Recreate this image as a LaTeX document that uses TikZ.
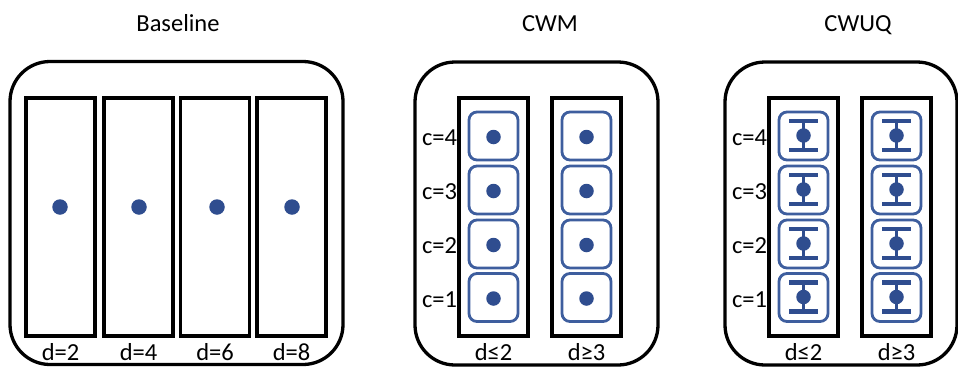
\documentclass[tikz,border=0pt]{standalone}
\usepackage{fontspec}
\setmainfont{Carlito}
\definecolor{dotblue}{RGB}{47,77,143}
\definecolor{cellblue}{RGB}{62,94,158}
\begin{document}
\begin{tikzpicture}[x=1pt,y=-1pt,
  outerbox/.style={draw=black,line width=3.3pt,rounded corners=40pt,inner sep=0pt,outer sep=0pt,minimum height=303pt},
  colbox/.style={draw=black,line width=3.5pt,inner sep=0pt,outer sep=0pt,minimum width=69pt,minimum height=238pt},
  cellbox/.style={draw=cellblue,line width=2.8pt,rounded corners=8pt,inner sep=0pt,outer sep=0pt,minimum width=49pt,minimum height=48pt},
  bluedot/.style={circle,fill=dotblue,inner sep=0pt,outer sep=0pt,minimum size=15.5pt},
  lbl/.style={font=\fontsize{24.5}{28}\selectfont,inner sep=0pt,outer sep=0pt},
  errbar/.style={draw=dotblue,line width=4.2pt},
  errstem/.style={draw=dotblue,line width=3pt}]
\useasboundingbox (0,0) rectangle (958,367);

% titles
\node[lbl,anchor=base] (tbase) at (178,31) {Baseline};
\node[lbl,anchor=base] (tcwm) at (550,31) {CWM};
\node[lbl,anchor=base] (tcwuq) at (858,31) {CWUQ};

% outer boxes
\node[outerbox,minimum width=333pt] (obase) at (176.5,213) {};
\node[outerbox,minimum width=243pt] (ocwm) at (536.5,213.5) {};
\node[outerbox,minimum width=232pt] (ocwuq) at (841,213.5) {};

% baseline columns
\foreach \i/\x/\dx/\d in {1/60.5/60/2,2/138.5/139/4,3/215/217/6,4/291.5/292/8}{
  \node[colbox] (bcol\i) at (\x,217) {};
  \node[bluedot] (bdot\i) at (\dx,207) {};
  \node[lbl,anchor=base,yshift=-24pt] (bd\i) at (bcol\i.south) {d=\d};
}

% CWM columns
\foreach \j/\x/\lab in {1/493.5/{d≤2},2/586.5/{d≥3}}{
  \node[colbox] (mcol\j) at (\x,217) {};
  \node[lbl,anchor=base,yshift=-24pt] (md\j) at (mcol\j.south) {\lab};
  \foreach \c/\y in {4/136,3/190,2/244,1/297.5}{
    \node[cellbox] (mcell\j-\c) at (\x,\y) {};
    \node[bluedot,minimum size=14.5pt] (mdot\j-\c) at (\x,\y+1) {};
  }
}
\foreach \c in {1,2,3,4}{
  \node[lbl,anchor=base east,xshift=-36.5pt,yshift=-9.5pt] (mc\c) at (mcell1-\c.center) {c=\c};
}

% CWUQ columns
\foreach \j/\x/\lab in {1/803.5/{d≤2},2/896.5/{d≥3}}{
  \node[colbox] (ucol\j) at (\x,217) {};
  \node[lbl,anchor=base,yshift=-24pt] (ud\j) at (ucol\j.south) {\lab};
  \foreach \c/\y in {4/136,3/190,2/244,1/297.5}{
    \node[cellbox] (ucell\j-\c) at (\x,\y) {};
    \begin{scope}[shift={(ucell\j-\c.center)}]
      \coordinate (utop\j-\c) at (0,-15);
      \coordinate (ubot\j-\c) at (0,14);
      \draw[errstem] (utop\j-\c) -- (ubot\j-\c);
      \draw[errbar] (-14.5,-15) -- (14.5,-15);
      \draw[errbar] (-14.5,14) -- (14.5,14);
      \node[bluedot,minimum size=14.5pt] (udot\j-\c) at (0,-0.5) {};
    \end{scope}
  }
}
\foreach \c in {1,2,3,4}{
  \node[lbl,anchor=base east,xshift=-36.5pt,yshift=-9.5pt] (uc\c) at (ucell1-\c.center) {c=\c};
}
\end{tikzpicture}
\end{document}
